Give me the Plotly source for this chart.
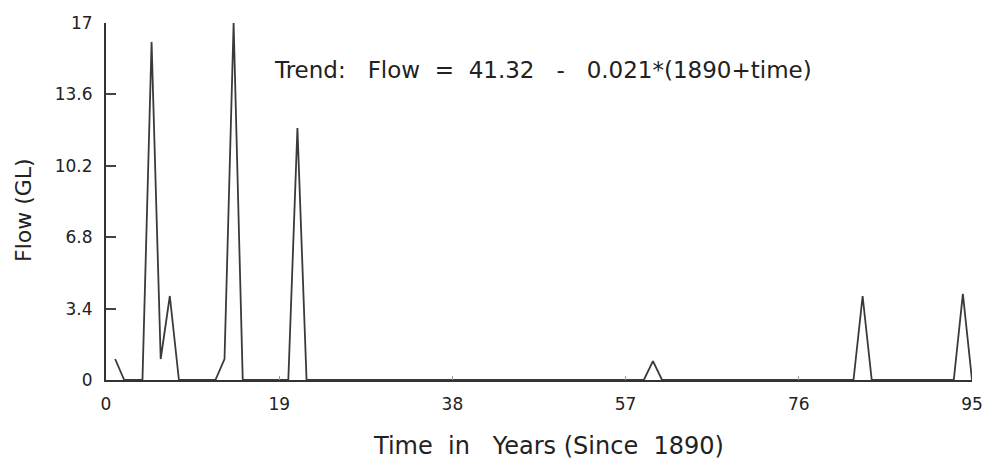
import plotly.graph_objects as go

# Annual flow series, years counted from 1890
years = list(range(1, 96))
flow = [0.0] * len(years)
peaks = {1: 1.0, 5: 16.1, 6: 1.0, 7: 4.0, 13: 1.0, 14: 17.0, 21: 12.0,
         60: 0.9, 83: 4.0, 94: 4.1}
for yr, val in peaks.items():
    flow[yr - 1] = val

x_ticks = [0, 19, 38, 57, 76, 95]
y_ticks = [0, 3.4, 6.8, 10.2, 13.6, 17]
y_tick_labels = ["0", "3.4", "6.8", "10.2", "13.6", "17"]

sp = "\u00a0"
trend_text = ("Trend:" + sp * 3 + "Flow" + sp * 2 + "=" + sp * 2 + "41.32"
              + sp * 3 + "-" + sp * 3 + "0.021*(1890+time)")
x_title = "Time" + sp * 2 + "in" + sp * 3 + "Years" + sp + "(Since" + sp * 2 + "1890)"
y_title = "Flow" + sp + "(GL)"

ink = "#222222"
font_family = "DejaVu Sans"

fig = go.Figure()
fig.add_trace(go.Scatter(
    x=years, y=flow, mode="lines",
    line=dict(color="#3a3a3a", width=1.8),
    showlegend=False, hoverinfo="x+y",
))

fig.update_layout(
    width=989, height=462,
    margin=dict(l=106, r=17, t=23, b=82, autoexpand=False),
    paper_bgcolor="white", plot_bgcolor="white",
    font=dict(family=font_family, color=ink),
    xaxis=dict(
        range=[0, 95], tickvals=x_ticks, ticktext=[str(v) for v in x_ticks],
        showgrid=False, zeroline=False, automargin=False,
        showline=True, linecolor="#333333", linewidth=2,
        ticks="inside", ticklen=4, tickwidth=1, tickcolor="#999999",
        tickfont=dict(size=17, family=font_family, color=ink),
        ticklabelstandoff=8, ticklabeloverflow="allow",
    ),
    yaxis=dict(
        range=[0, 17], tickvals=y_ticks, ticktext=y_tick_labels,
        showgrid=False, zeroline=False, automargin=False,
        showline=True, linecolor="#333333", linewidth=2,
        ticks="inside", ticklen=10, tickwidth=1.5, tickcolor="#444444",
        tickfont=dict(size=17, family=font_family, color=ink),
        ticklabelstandoff=8, ticklabeloverflow="allow",
    ),
    annotations=[
        dict(text=trend_text, xref="paper", yref="paper",
             x=(272 - 106) / 866, y=(380 - 70) / 357,
             xanchor="left", yanchor="middle", showarrow=False,
             font=dict(size=23, family=font_family, color=ink)),
        dict(text=x_title, xref="paper", yref="paper",
             x=(548 - 106) / 866, y=-(446 - 380) / 357,
             xanchor="center", yanchor="middle", showarrow=False,
             font=dict(size=24, family=font_family, color=ink)),
        dict(text=y_title, xref="paper", yref="paper",
             x=-(106 - 23) / 866, y=(380 - 210) / 357,
             xanchor="center", yanchor="middle", showarrow=False,
             textangle=-90,
             font=dict(size=22, family=font_family, color=ink)),
    ],
)

fig.write_html("out.html")
